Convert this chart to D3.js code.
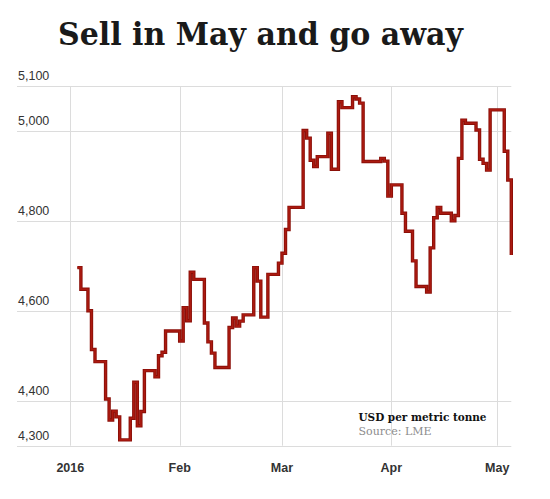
<!DOCTYPE html>
<html>
<head>
<meta charset="utf-8">
<script src="https://cdn.jsdelivr.net/npm/d3@7"></script>
<style>
    body { margin: 0; background: #fff; }
    svg { display: block; }
</style>
</head>
<body>
<div id="chart"></div>
<script>
// LME price (step changes only)
const dates = [
    '2016-01-03', '2016-01-04', '2016-01-06', '2016-01-07', '2016-01-08', '2016-01-11', '2016-01-12',
    '2016-01-13', '2016-01-14', '2016-01-15', '2016-01-18', '2016-01-19', '2016-01-20', '2016-01-21',
    '2016-01-22', '2016-01-25', '2016-01-26', '2016-01-27', '2016-01-28',
    '2016-02-01', '2016-02-02', '2016-02-03', '2016-02-04', '2016-02-05', '2016-02-08', '2016-02-09',
    '2016-02-10', '2016-02-11', '2016-02-15', '2016-02-16', '2016-02-17', '2016-02-18', '2016-02-19',
    '2016-02-22', '2016-02-23', '2016-02-24', '2016-02-26', '2016-02-29',
    '2016-03-01', '2016-03-02', '2016-03-03', '2016-03-07', '2016-03-08', '2016-03-09', '2016-03-10',
    '2016-03-11', '2016-03-14', '2016-03-15', '2016-03-17', '2016-03-18', '2016-03-21', '2016-03-22',
    '2016-03-23', '2016-03-24', '2016-03-29', '2016-03-30', '2016-03-31',
    '2016-04-01', '2016-04-04', '2016-04-05', '2016-04-07', '2016-04-08', '2016-04-11', '2016-04-12',
    '2016-04-13', '2016-04-14', '2016-04-15', '2016-04-18', '2016-04-19', '2016-04-20', '2016-04-21',
    '2016-04-22', '2016-04-25', '2016-04-26', '2016-04-27', '2016-04-28', '2016-04-29',
    '2016-05-03', '2016-05-04', '2016-05-05'
];
const prices = [
    4696, 4648, 4600, 4514, 4487, 4404, 4357, 4377, 4364, 4313, 4361, 4441, 4344, 4376, 4467, 4453, 4500, 4508, 4555,
    4533, 4607, 4578, 4686, 4670, 4573, 4531, 4506, 4474, 4563, 4584, 4566, 4577, 4591, 4696, 4666, 4586, 4681, 4706,
    4728, 4781, 4830, 5001, 4984, 4935, 4921, 4943, 4995, 4915, 5065, 5052, 5076, 5071, 5062, 4932, 4939, 4933, 4855,
    4880, 4817, 4777, 4711, 4654, 4642, 4740, 4807, 4830, 4817, 4800, 4812, 4939, 5024, 5017, 5002, 4937, 4928, 4913, 5047,
    4955, 4891, 4724
];
const yTicks = [4300, 4400, 4600, 4800, 5000, 5100];
const xTicks = ['2016-01-01', '2016-02-01', '2016-03-01', '2016-04-01', '2016-05-01'];
const xTickLabels = ['2016', 'Feb', 'Mar', 'Apr', 'May'];

const title = 'Sell in May and go away';
const unitNote = 'USD per metric tonne';
const sourceNote = 'Source: LME';

const width = 550;
const height = 499;
const parse = d3.timeParse('%Y-%m-%d');

const data = dates.map((d, i) => ({date: parse(d), price: prices[i]}));

const x = d3.scaleTime()
    .domain([parse('2016-01-01'), parse('2016-05-05')])
    .range([70.3, 511.3]);
const y = d3.scaleLinear()
    .domain([4300, 5100])
    .range([445.7, 86]);

const svg = d3.select('#chart')
    .append('svg')
    .attr('width', width)
    .attr('height', height);

svg.append('text')
    .attr('x', 58)
    .attr('y', 45)
    .attr('textLength', 405)
    .attr('lengthAdjust', 'spacingAndGlyphs')
    .style('font-family', '"DejaVu Serif", serif')
    .style('font-weight', 'bold')
    .style('font-size', '32px')
    .attr('fill', '#1a1a1a')
    .text(title);

// horizontal gridlines run under the tick labels
svg.append('g')
    .selectAll('line')
    .data(yTicks)
    .enter()
    .append('line')
    .attr('x1', 17)
    .attr('x2', x.range()[1])
    .attr('y1', d => Math.round(y(d)) + 0.5)
    .attr('y2', d => Math.round(y(d)) + 0.5)
    .attr('stroke', '#dcdcdc')
    .attr('stroke-width', 1);

svg.append('g')
    .selectAll('text')
    .data(yTicks)
    .enter()
    .append('text')
    .attr('x', 18)
    .attr('y', d => y(d) - 6)
    .style('font-family', '"Liberation Sans", Arial, sans-serif')
    .style('font-size', '12.5px')
    .attr('fill', '#333')
    .text(d => d3.format(',')(d));

// vertical gridlines at month starts
svg.append('g')
    .selectAll('line')
    .data(xTicks)
    .enter()
    .append('line')
    .attr('x1', d => Math.round(x(parse(d))) + 0.5)
    .attr('x2', d => Math.round(x(parse(d))) + 0.5)
    .attr('y1', y(5100))
    .attr('y2', y(4300))
    .attr('stroke', '#dcdcdc')
    .attr('stroke-width', 1);

svg.append('g')
    .selectAll('text')
    .data(xTicks)
    .enter()
    .append('text')
    .attr('x', d => x(parse(d)))
    .attr('y', 471.5)
    .attr('text-anchor', 'middle')
    .style('font-family', '"Liberation Sans", Arial, sans-serif')
    .style('font-size', '12.5px')
    .style('font-weight', 'bold')
    .attr('fill', '#333')
    .text((d, i) => xTickLabels[i]);

// note in the lower right
svg.append('text')
    .attr('x', 358.5)
    .attr('y', 420.5)
    .attr('textLength', 128)
    .attr('lengthAdjust', 'spacingAndGlyphs')
    .style('font-family', '"DejaVu Serif", serif')
    .style('font-weight', 'bold')
    .style('font-size', '11.5px')
    .attr('fill', '#111')
    .text(unitNote);
svg.append('text')
    .attr('x', 358.5)
    .attr('y', 434.5)
    .attr('textLength', 73)
    .attr('lengthAdjust', 'spacingAndGlyphs')
    .style('font-family', '"DejaVu Serif", serif')
    .style('font-size', '11.5px')
    .attr('fill', '#8c8c8c')
    .text(sourceNote);

const line = d3.line()
    .x(d => x(d.date))
    .y(d => y(d.price))
    .curve(d3.curveStepAfter);

svg.append('path')
    .datum(data)
    .attr('d', line)
    .attr('fill', 'none')
    .attr('stroke', '#8a0f08')
    .attr('stroke-width', 3.4)
    .attr('stroke-linejoin', 'miter');
svg.append('path')
    .datum(data)
    .attr('d', line)
    .attr('fill', 'none')
    .attr('stroke', '#ab1a10')
    .attr('stroke-width', 1.6)
    .attr('stroke-linejoin', 'miter');
</script>
</body>
</html>
